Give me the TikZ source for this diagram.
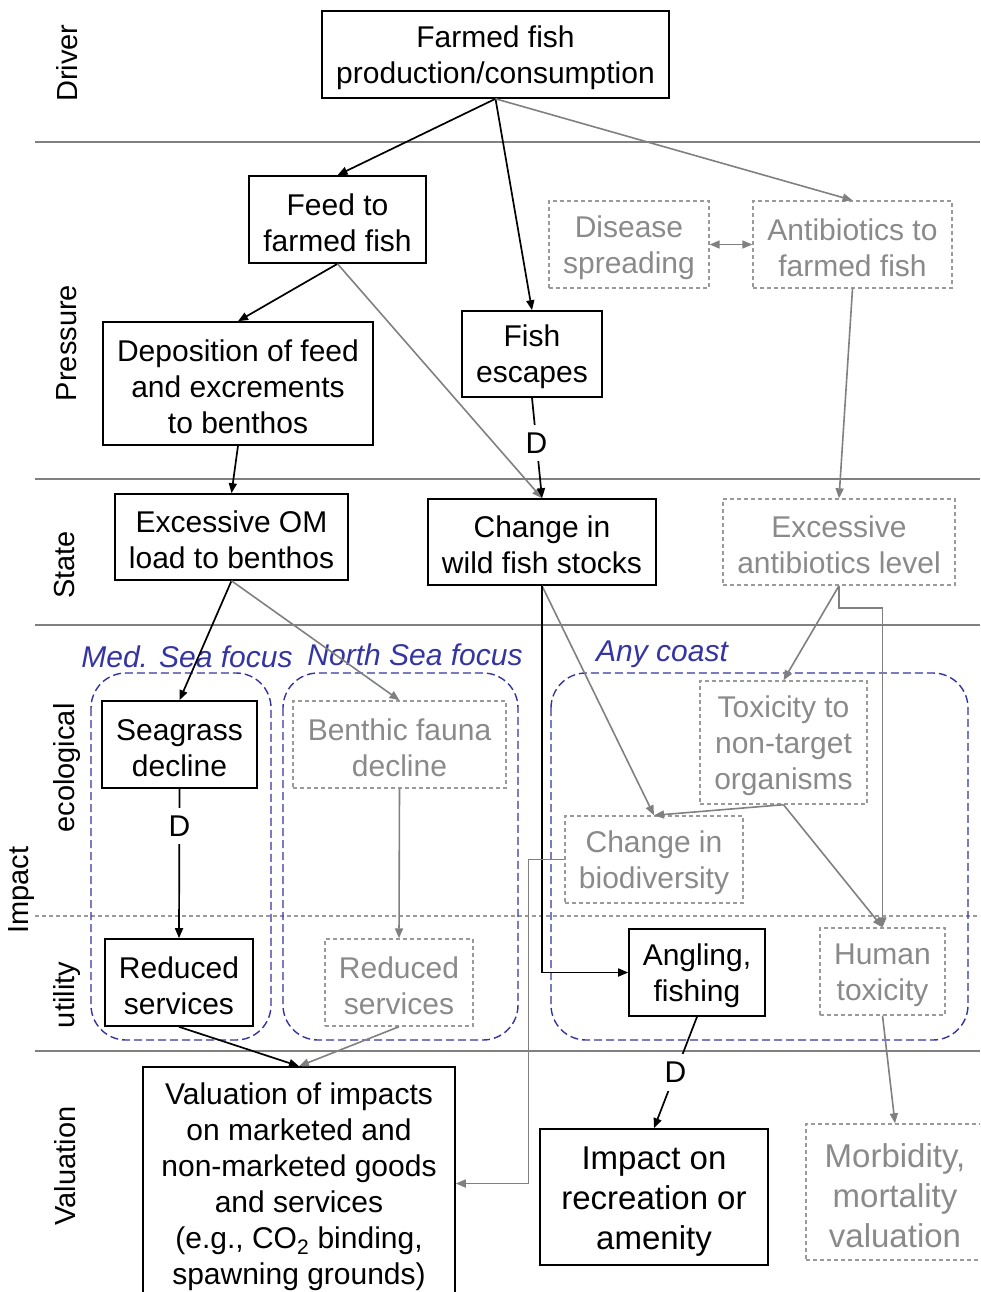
\documentclass[tikz,border=0pt]{standalone}
\usepackage{fontspec}
\setmainfont{Liberation Sans}
\usetikzlibrary{arrows.meta,calc}
\definecolor{lgray}{HTML}{808080}
\definecolor{tgray}{HTML}{8A8A8A}
\definecolor{bgray}{HTML}{9A9A9A}
\definecolor{navy}{HTML}{3434A2}
\newcommand{\tst}{\rule{0pt}{28pt}}
\newcommand{\tsb}{\rule{0pt}{31pt}}
\begin{document}
\begin{tikzpicture}[x=1pt,y=-1pt,
  >={Triangle[length=10pt,width=8pt]},
  every node/.style={font=\fontsize{30}{36}\selectfont, align=center, inner sep=0pt},
  bbox/.style={draw=black, line width=1.6pt},
  gbox/.style={draw=bgray, dash pattern=on 4pt off 3pt, line width=1.4pt, text=tgray},
  big/.style={font=\fontsize{33}{40}\selectfont},
  blk/.style={draw=black, line width=1.7pt, ->},
  gry/.style={draw=lgray, line width=1.6pt, ->},
  sepline/.style={draw=lgray, line width=1.6pt},
  grp/.style={draw=navy, dash pattern=on 8pt off 4pt, line width=1.4pt, rounded corners=35pt},
  glab/.style={text=navy, font=\fontsize{30}{36}\selectfont\itshape},
  side/.style={rotate=90, font=\fontsize{29}{34}\selectfont},
  dlab/.style={fill=white, inner xsep=3pt, inner ysep=8pt}
]
\useasboundingbox (0,0) rectangle (980,1292);
\clip (0,0) rectangle (980,1292);

% separators
\coordinate (s1a) at (35,142);  \coordinate (s1b) at (980,142);
\coordinate (s2a) at (35,479);  \coordinate (s2b) at (980,479);
\coordinate (s3a) at (35,625);  \coordinate (s3b) at (980,625);
\coordinate (s4a) at (35,1051); \coordinate (s4b) at (980,1051);
\coordinate (dva) at (35,916);  \coordinate (dvb) at (980,916);
\draw[sepline] (s1a) -- (s1b);
\draw[sepline] (s2a) -- (s2b);
\draw[sepline] (s3a) -- (s3b);
\draw[sepline] (s4a) -- (s4b);
\draw[draw=bgray, line width=1.4pt, dash pattern=on 4pt off 3pt] (dva) -- (dvb);

% side labels
\node[side] (lDriver) at (67,63) {Driver};
\node[side] (lPressure) at (67,343) {Pressure};
\node[side] (lState) at (65,565) {State};
\node[side] (lEco) at (67,768) {ecological};
\node[side] (lImpact) at (22,890) {Impact};
\node[side] (lUtil) at (67,995) {utility};
\node[side] (lVal) at (65,1166) {Valuation};

% groups
\draw[grp] (91,673) rectangle (271,1040);
\draw[grp] (283,673) rectangle (518,1040);
\draw[grp] (551,673) rectangle (968,1040);
\node[glab] (gMed) at (187,657) {Med. Sea focus};
\node[glab] (gNorth) at (415,655) {North Sea focus};
\node[glab] (gAny) at (662,654) {Any coast};

% nodes
\node[bbox, minimum width=347pt, minimum height=87pt] (farm) at (495.5,54.5) {\tst Farmed fish\\production/consumption};
\node[bbox, minimum width=177pt, minimum height=87pt] (feed) at (337.5,219.5) {\tst Feed to\\farmed fish};
\node[gbox, minimum width=160pt, minimum height=87pt] (dis) at (629,244.5) {\tst Disease\\spreading};
\node[gbox, minimum width=199pt, minimum height=87pt] (anti) at (852.5,244.5) {\tst Antibiotics to\\farmed fish};
\node[bbox, minimum width=140pt, minimum height=86pt] (esc) at (532,354) {\tst Fish\\escapes};
\node[bbox, minimum width=270pt, minimum height=123pt] (dep) at (238,383.5) {\tst Deposition of feed\\and excrements\\to benthos};
\node[bbox, minimum width=233pt, minimum height=86pt] (om) at (231.5,537) {\tst Excessive OM\\load to benthos};
\node[bbox, minimum width=228pt, minimum height=86pt] (wild) at (542,542) {\tst Change in\\wild fish stocks};
\node[gbox, minimum width=232pt, minimum height=86pt] (eab) at (839,542) {\tst Excessive\\antibiotics level};
\node[bbox, minimum width=155pt, minimum height=87pt] (sea) at (179.5,744.5) {\tst Seagrass\\decline};
\node[gbox, minimum width=213pt, minimum height=87pt] (ben) at (399.5,744.5) {\tst Benthic fauna\\decline};
\node[gbox, minimum width=167pt, minimum height=123pt] (tox) at (783.5,742.5) {\tst Toxicity to\\non-target\\organisms};
\node[gbox, minimum width=178pt, minimum height=87pt] (bio) at (654,859.5) {\tst Change in\\biodiversity};
\node[bbox, minimum width=148pt, minimum height=87pt] (red1) at (179,982.5) {\tst Reduced\\services};
\node[gbox, minimum width=148pt, minimum height=87pt] (red2) at (399,982.5) {\tst Reduced\\services};
\node[bbox, minimum width=136pt, minimum height=87pt] (ang) at (697,972.5) {\tst Angling,\\fishing};
\node[gbox, minimum width=125pt, minimum height=87pt] (hum) at (882.5,971.5) {\tst Human\\toxicity};
\node[bbox, minimum width=312pt, minimum height=233pt] (val) at (299,1183.5) {\tst Valuation of impacts\\on marketed and\\non-marketed goods\\and services\\(e.g., CO\textsubscript{2} binding,\\spawning grounds)};
\node[bbox, big, minimum width=228pt, minimum height=136pt] (imp) at (654,1197) {\tsb Impact on\\recreation or\\amenity};
\node[gbox, big, minimum width=178pt, minimum height=136pt] (mor) at (895,1192) {\tsb Morbidity,\\mortality\\valuation};

% connectors
\draw[blk] (farm.south) -- (feed.north);
\draw[blk] (farm.south) -- (esc.north);
\draw[gry] (farm.south) -- (anti.north);
\draw[gry, <->] (dis.east) -- (anti.west);
\draw[blk] (feed.south) -- (dep.north);
\draw[gry] (feed.south) -- (wild.north);
\draw[blk] (esc.south) -- node[dlab, pos=0.45] (d1) {D} (wild.north);
\draw[blk] (dep.south) -- (om.north);
\draw[gry] (anti.south) -- (eab.north);
\draw[blk] (om.south) -- (sea.north);
\draw[gry] (om.south) -- (ben.north);
\draw[gry] (wild.south) -- (bio.north);
\draw[blk] (wild.south) |- (ang.west);
\draw[gry] (eab.south) -- (tox.north);
\draw[gry] (eab.south) -- ++(0,22) -| (hum.north);
\draw[gry] (tox.south) -- (bio.north);
\draw[gry] (tox.south) -- (hum.north);
\draw[gry] (bio.west) -- ++(-36,0) |- (val.east);
\draw[blk] (sea.south) -- node[dlab, pos=0.25] (d2) {D} (red1.north);
\draw[gry] (ben.south) -- (red2.north);
\draw[blk] (red1.south) -- (val.north);
\draw[gry] (red2.south) -- (val.north);
\draw[blk] (ang.south) -- node[dlab, pos=0.5] (d3) {D} (imp.north);
\draw[gry] (hum.south) -- (mor.north);
\end{tikzpicture}
\end{document}
